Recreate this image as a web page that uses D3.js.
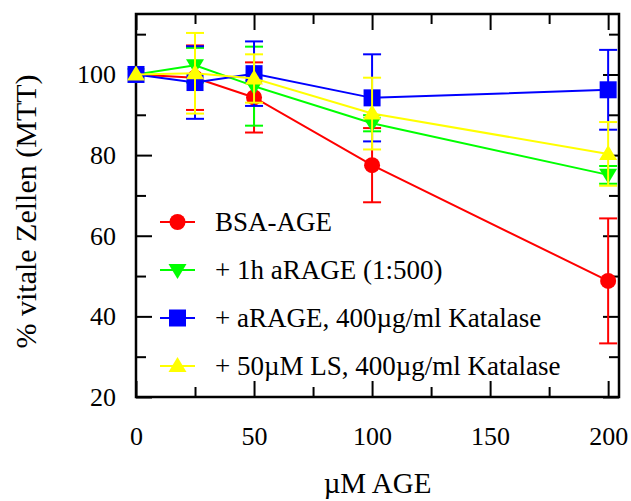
<!DOCTYPE html>
<html>
<head>
<meta charset="utf-8">
<script src="https://cdn.jsdelivr.net/npm/d3@7"></script>
<style>
  html, body { margin: 0; padding: 0; background: #fff; }
  svg { display: block; font-family: "Liberation Serif", "Times New Roman", serif; }
</style>
</head>
<body>
<svg id="chart" width="631" height="501"></svg>
<script>
// AGE concentration (µM) on the x axis
const doses = [0, 25, 50, 100, 200];

// % viable cells (MTT) per series, with error bar half-heights
const bsaAge      = [100, 99.2, 94.3, 77.5, 48.8];
const bsaAgeErr   = [0, 8.0, 8.7, 9.2, 15.5];
const aRage1h     = [100, 102.3, 97.1, 87.9, 75.1];
const aRage1hErr  = [0, 4.3, 9.8, 2.0, 2.2];
const aRageKat    = [100, 98.0, 100.2, 94.2, 96.2];
const aRageKatErr = [0, 9.0, 8.0, 10.8, 9.9];
const lsKat       = [100, 100.3, 99.0, 90.3, 80.3];
const lsKatErr    = [0, 10.0, 6.0, 8.9, 7.9];

const seriesNames = [
  "BSA-AGE",
  "+ 1h aRAGE (1:500)",
  "+ aRAGE, 400µg/ml Katalase",
  "+ 50µM LS, 400µg/ml Katalase"
];

const xMajorTicks = [0, 50, 100, 150, 200];
const xMinorTicks = [25, 75, 125, 175];
const yMajorTicks = [20, 40, 60, 80, 100];
const yMinorTicks = [30, 50, 70, 90, 110];

const xTitle = "µM AGE";
const yTitle = "% vitale Zellen (MTT)";

const series = [
  { name: seriesNames[0], values: bsaAge,   errs: bsaAgeErr,   color: "#ff0000", symbol: "circle" },
  { name: seriesNames[1], values: aRage1h,  errs: aRage1hErr,  color: "#00ff00", symbol: "tridown" },
  { name: seriesNames[2], values: aRageKat, errs: aRageKatErr, color: "#0000ff", symbol: "square" },
  { name: seriesNames[3], values: lsKat,    errs: lsKatErr,    color: "#ffff00", symbol: "triup" }
];

const fontFamily = "Liberation Serif, Times New Roman, serif";
const svg = d3.select("#chart");
const plot = { left: 136, right: 619, top: 14, bottom: 397 };

const x = d3.scaleLinear().domain([0, 204.6]).range([plot.left, plot.right]);
const y = d3.scaleLinear().domain([20, 115]).range([plot.bottom, plot.top]);

// Axes: ticks point inward and are mirrored on the opposite sides
const majorLen = 16, minorLen = 10;
const tickStroke = 2;

function styleAxis(g) {
  g.attr("font-family", fontFamily).attr("font-size", 26);
  g.select(".domain").remove();
  g.selectAll(".tick line").attr("stroke", "#000").attr("stroke-width", tickStroke);
  g.selectAll(".tick text").attr("fill", "#000");
}

// bottom
svg.append("g").attr("transform", `translate(0,${plot.bottom})`)
  .call(d3.axisBottom(x).tickValues(xMajorTicks).tickSize(-majorLen).tickPadding(30).tickFormat(d3.format("d")))
  .call(styleAxis);
svg.append("g").attr("transform", `translate(0,${plot.bottom})`)
  .call(d3.axisBottom(x).tickValues(xMinorTicks).tickSize(-minorLen).tickFormat(""))
  .call(styleAxis);
// top
svg.append("g").attr("transform", `translate(0,${plot.top})`)
  .call(d3.axisTop(x).tickValues(xMajorTicks).tickSize(-majorLen).tickFormat(""))
  .call(styleAxis);
svg.append("g").attr("transform", `translate(0,${plot.top})`)
  .call(d3.axisTop(x).tickValues(xMinorTicks).tickSize(-minorLen).tickFormat(""))
  .call(styleAxis);
// left
svg.append("g").attr("transform", `translate(${plot.left},0)`)
  .call(d3.axisLeft(y).tickValues(yMajorTicks).tickSize(-majorLen).tickPadding(20).tickFormat(d3.format("d")))
  .call(styleAxis);
svg.append("g").attr("transform", `translate(${plot.left},0)`)
  .call(d3.axisLeft(y).tickValues(yMinorTicks).tickSize(-minorLen).tickFormat(""))
  .call(styleAxis);
// right
svg.append("g").attr("transform", `translate(${plot.right},0)`)
  .call(d3.axisRight(y).tickValues(yMajorTicks).tickSize(-majorLen).tickFormat(""))
  .call(styleAxis);
svg.append("g").attr("transform", `translate(${plot.right},0)`)
  .call(d3.axisRight(y).tickValues(yMinorTicks).tickSize(-minorLen).tickFormat(""))
  .call(styleAxis);

// plot frame
svg.append("rect")
  .attr("x", plot.left).attr("y", plot.top)
  .attr("width", plot.right - plot.left).attr("height", plot.bottom - plot.top)
  .attr("fill", "none").attr("stroke", "#000").attr("stroke-width", 2.5);

// axis titles
svg.append("text")
  .attr("x", (plot.left + plot.right) / 2).attr("y", 493)
  .attr("text-anchor", "middle").attr("font-size", 29).attr("fill", "#000")
  .text(xTitle);
svg.append("text")
  .attr("transform", `translate(36,${(plot.top + plot.bottom) / 2 + 6}) rotate(-90)`)
  .attr("text-anchor", "middle").attr("font-size", 30).attr("fill", "#000")
  .text(yTitle);

// marker shapes
function drawMarker(g, symbol, cx, cy, color) {
  if (symbol === "circle") {
    g.append("circle").attr("cx", cx).attr("cy", cy).attr("r", 8).attr("fill", color);
  } else if (symbol === "square") {
    g.append("rect").attr("x", cx - 8.5).attr("y", cy - 8.5).attr("width", 17).attr("height", 17).attr("fill", color);
  } else if (symbol === "triup") {
    g.append("path").attr("d", `M${cx},${cy - 9}L${cx + 9},${cy + 6}L${cx - 9},${cy + 6}Z`).attr("fill", color);
  } else if (symbol === "tridown") {
    g.append("path").attr("d", `M${cx},${cy + 9}L${cx + 9},${cy - 6}L${cx - 9},${cy - 6}Z`).attr("fill", color);
  }
}

const line = d3.line().x((d, i) => x(doses[i])).y(d => y(d));
const capHalf = 9;

series.forEach(s => {
  const g = svg.append("g");
  g.append("path").datum(s.values)
    .attr("d", line).attr("fill", "none").attr("stroke", s.color).attr("stroke-width", 2);
  s.values.forEach((v, i) => {
    const e = s.errs[i];
    if (e > 0) {
      const cx = x(doses[i]);
      const y0 = y(v - e), y1 = y(v + e);
      g.append("line").attr("x1", cx).attr("x2", cx).attr("y1", y0).attr("y2", y1)
        .attr("stroke", s.color).attr("stroke-width", 2);
      [y0, y1].forEach(cy => {
        g.append("line").attr("x1", cx - capHalf).attr("x2", cx + capHalf).attr("y1", cy).attr("y2", cy)
          .attr("stroke", s.color).attr("stroke-width", 2);
      });
    }
  });
  s.values.forEach((v, i) => drawMarker(g, s.symbol, x(doses[i]), y(v), s.color));
});

// legend
const legendX = 160, legendTextX = 215, legendY0 = 222, legendStep = 48;
series.forEach((s, i) => {
  const ly = legendY0 + i * legendStep;
  const g = svg.append("g");
  g.append("line").attr("x1", legendX).attr("x2", legendX + 35).attr("y1", ly).attr("y2", ly)
    .attr("stroke", s.color).attr("stroke-width", 2);
  drawMarker(g, s.symbol, legendX + 17.5, ly, s.color);
  g.append("text").attr("x", legendTextX).attr("y", ly + 9)
    .attr("font-size", 27).attr("fill", "#000").text(s.name);
});
</script>
</body>
</html>
